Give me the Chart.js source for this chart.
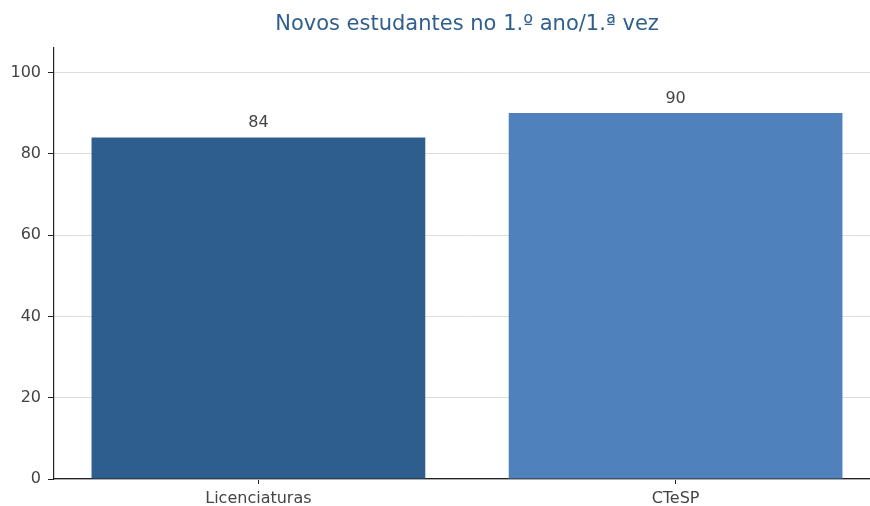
<!DOCTYPE html>
<html>
<head>
<meta charset="utf-8">
<script src="https://cdn.jsdelivr.net/npm/chart.js@4/dist/chart.umd.min.js"></script>
<style>
  html, body { margin: 0; padding: 0; overflow: hidden; background: #fff; }
  .chart-container { position: relative; width: 936px; height: 506px; }
</style>
</head>
<body>
<div class="chart-container"><canvas id="myChart"></canvas></div>
<script>
const categories = ["Licenciaturas", "CTeSP"];
const values = [84, 90];
const barColors = ["#2e5e8e", "#4f81bd"];
const yTickValues = [0, 20, 40, 60, 80, 100];
const chartTitle = "Novos estudantes no 1.º ano/1.ª vez";

const textColor = "#444444";
const fontFamily = "'DejaVu Sans', sans-serif";

// value labels above each bar
const barLabels = {
  id: "barLabels",
  afterDatasetsDraw(chart) {
    const ctx = chart.ctx;
    const meta = chart.getDatasetMeta(0);
    ctx.save();
    ctx.font = "16px " + fontFamily;
    ctx.fillStyle = textColor;
    ctx.textAlign = "center";
    ctx.textBaseline = "alphabetic";
    meta.data.forEach((bar, i) => {
      ctx.fillText(String(values[i]), bar.x, bar.y - 10);
    });
    ctx.restore();
  },
};

const ctx = document.getElementById("myChart").getContext("2d");
new Chart(ctx, {
  type: "bar",
  data: {
    datasets: [
      {
        data: values.map((v, i) => ({ x: i, y: v })),
        backgroundColor: barColors,
        borderWidth: 0,
        categoryPercentage: 1,
        barPercentage: 0.8,
      },
    ],
  },
  plugins: [barLabels],
  options: {
    responsive: true,
    maintainAspectRatio: false,
    animation: false,
    layout: { padding: { left: 0, right: 56, top: 0, bottom: 0 } },
    plugins: {
      legend: { display: false },
      tooltip: { enabled: false },
      title: {
        display: true,
        fullSize: false,
        text: chartTitle,
        color: "#2f5f8f",
        font: { family: fontFamily, size: 21, weight: "normal" },
        padding: { top: 12, bottom: 10 },
      },
    },
    scales: {
      x: {
        type: "linear",
        offset: false,
        min: -0.49,
        max: 1.49,
        afterBuildTicks: (scale) => {
          scale.ticks = categories.map((c, i) => ({ value: i }));
        },
        afterFit: (scale) => {
          scale.height = 27;
        },
        ticks: {
          callback: (v) => categories[v],
          color: textColor,
          font: { family: fontFamily, size: 16 },
          padding: 5,
          maxRotation: 0,
        },
        grid: {
          offset: false,
          drawOnChartArea: false,
          tickLength: 5,
          color: "#222222",
          tickColor: "#222222",
        },
        border: { display: true, color: "#222222", width: 1.2 },
      },
      y: {
        min: 0,
        max: 106.2,
        afterBuildTicks: (scale) => {
          scale.ticks = yTickValues.map((v) => ({ value: v }));
        },
        afterFit: (scale) => {
          scale.width = 54;
        },
        ticks: {
          color: textColor,
          font: { family: fontFamily, size: 16 },
          padding: 7,
        },
        grid: {
          color: "#dcdcdc",
          lineWidth: 1,
          tickLength: 6,
          tickColor: "#222222",
        },
        border: { display: true, color: "#222222", width: 1.2 },
      },
    },
  },
});
</script>
</body>
</html>
